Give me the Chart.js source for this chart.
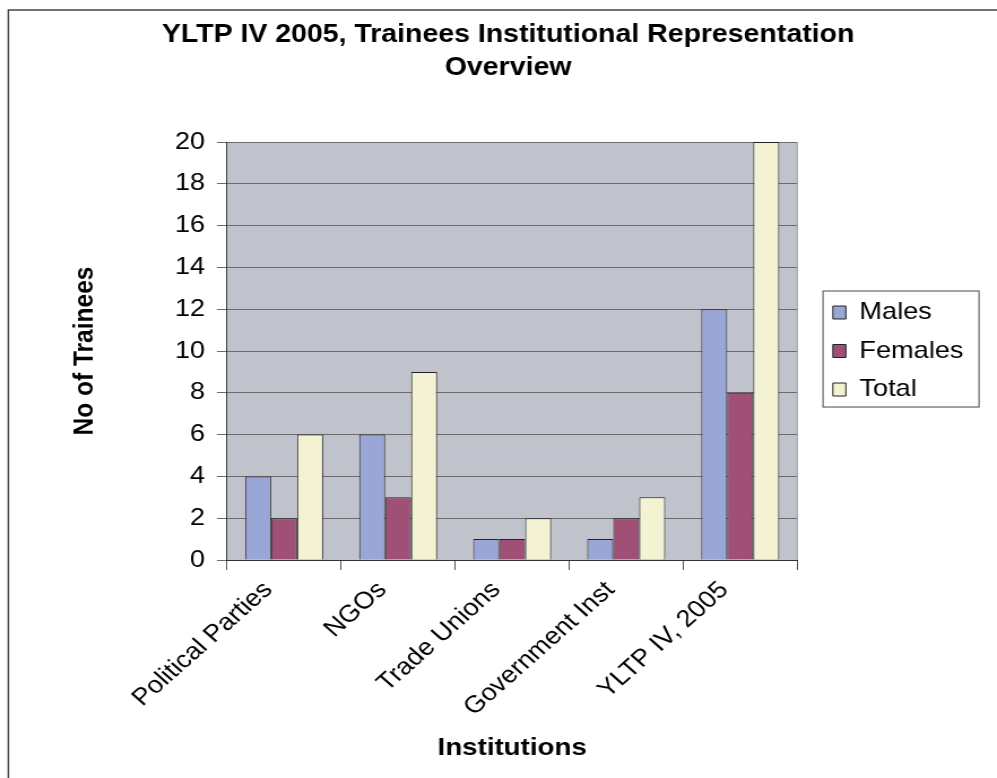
<!DOCTYPE html>
<html>
<head>
<meta charset="utf-8">
<title>YLTP IV 2005, Trainees Institutional Representation Overview</title>
<script src="https://cdn.jsdelivr.net/npm/chart.js@4.4.1/dist/chart.umd.min.js"></script>
<style>
  html, body { margin: 0; padding: 0; background: #fff; }
</style>
</head>
<body>
<!-- the original picture is stretched sideways, so the canvas is too -->
<canvas id="chart" width="882" height="778" style="display:block;width:997px;height:778px"></canvas>
<script>
/* DATA */
const titleLines = ["YLTP IV 2005, Trainees Institutional Representation", "Overview"];
const institutions = ["Political Parties", "NGOs", "Trade Unions", "Government Inst", "YLTP IV, 2005"];
const males = [4, 6, 1, 1, 12];
const females = [2, 3, 1, 2, 8];
const total = [6, 9, 2, 3, 20];
const yMin = 0;
const yMax = 20;
const yStep = 2;

const FONT = '"Liberation Sans", Arial, sans-serif';

/* background, frames, legend placement */
const framePlugin = {
  id: "frame",
  afterInit(chart) {
    const lg = chart.legend;
    const fit = lg.fit;
    lg.fit = function () {
      fit.call(this);
      this.width = 148.7;
    };
  },
  afterLayout(chart) {
    chart.legend.left += 17;
    chart.legend.right += 17;
  },
  beforeDraw(chart) {
    const { ctx, chartArea: a } = chart;
    ctx.save();
    ctx.fillStyle = "#fff";
    ctx.fillRect(0, 0, chart.width, chart.height);
    ctx.fillStyle = "#C1C3CC";
    ctx.fillRect(a.left, a.top, a.right - a.left, a.bottom - a.top);
    ctx.restore();
  },
  afterDraw(chart) {
    const { ctx, chartArea: a } = chart;
    ctx.save();

    // right edge of plot area
    ctx.strokeStyle = "#9A9A9A";
    ctx.lineWidth = 1;
    ctx.beginPath();
    ctx.moveTo(a.right, a.top);
    ctx.lineTo(a.right, a.bottom);
    ctx.stroke();

    // legend box
    const hb = chart.legend.legendHitBoxes;
    if (hb && hb.length) {
      const first = hb[0];
      const last = hb[hb.length - 1];
      const x0 = first.left - 8.7;
      const y0 = first.top - 9.5;
      const y1 = last.top + last.height + 5.5;
      ctx.strokeStyle = "#666";
      ctx.lineWidth = 1.2;
      ctx.strokeRect(x0, y0, 138, y1 - y0);
    }

    // outer border (cut by the picture on the right and bottom)
    ctx.strokeStyle = "#444";
    ctx.lineWidth = 1.4;
    ctx.beginPath();
    ctx.moveTo(7.4, chart.height + 5);
    ctx.lineTo(7.4, 10);
    ctx.lineTo(chart.width + 5, 10);
    ctx.stroke();

    ctx.restore();
  }
};

new Chart(document.getElementById("chart"), {
  type: "bar",
  data: {
    labels: institutions,
    datasets: [
      { label: "Males", data: males, backgroundColor: "#99A6D6", borderColor: "#222", borderWidth: 1 },
      { label: "Females", data: females, backgroundColor: "#A05076", borderColor: "#222", borderWidth: 1 },
      { label: "Total", data: total, backgroundColor: "#F3F3D3", borderColor: "#222", borderWidth: 1 }
    ]
  },
  options: {
    responsive: false,
    animation: false,
    devicePixelRatio: 1,
    layout: { padding: { left: 45, right: 28, top: 10, bottom: 0 } },
    datasets: { bar: { categoryPercentage: 0.684, barPercentage: 1 } },
    plugins: {
      title: {
        display: true,
        text: titleLines,
        color: "#000",
        font: { family: FONT, size: 25.2, weight: "bold", lineHeight: 1.32 },
        padding: { top: 8, bottom: 57.5 }
      },
      legend: {
        position: "right",
        fullSize: false,
        align: "center",
        labels: {
          color: "#000",
          font: { family: FONT, size: 24 },
          boxWidth: 11.5,
          boxHeight: 13,
          padding: 14.5
        }
      },
      tooltip: { enabled: false }
    },
    scales: {
      x: {
        grid: { display: true, drawOnChartArea: false, tickLength: 10, color: "#555", offset: true },
        border: { display: true, color: "#333", width: 1 },
        ticks: {
          color: "#000",
          font: { family: FONT, size: 24 },
          minRotation: 45,
          maxRotation: 45,
          autoSkip: false,
          padding: 6,
          labelOffset: -14
        },
        title: {
          display: true,
          text: "Institutions",
          color: "#000",
          font: { family: FONT, size: 24.5, weight: "bold" },
          padding: { top: 0, bottom: 15 }
        },
        afterFit(scale) { scale.height = 218; }
      },
      y: {
        min: yMin,
        max: yMax,
        ticks: { stepSize: yStep, color: "#000", font: { family: FONT, size: 24 }, padding: 10.5 },
        grid: { color: "#6B6B6B", tickLength: 9, lineWidth: 1 },
        border: { display: true, color: "#333", width: 1 },
        title: {
          display: true,
          text: "No of Trainees",
          color: "#000",
          font: { family: FONT, size: 24.5, weight: "bold" },
          padding: { top: 16, bottom: 0 }
        },
        afterFit(scale) { scale.width = 155.9; }
      }
    }
  },
  plugins: [framePlugin]
});
</script>
</body>
</html>
